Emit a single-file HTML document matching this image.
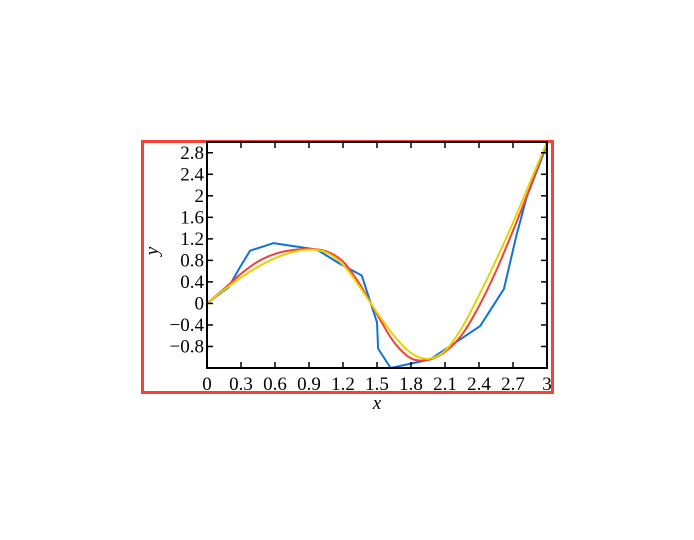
<!DOCTYPE html>
<html><head><meta charset="utf-8"><style>
body{margin:0;background:#fff;}
svg text{font-family:"Liberation Serif",serif;font-size:19px;fill:#000;}
</style></head><body>
<svg width="694" height="535" xmlns="http://www.w3.org/2000/svg">
<rect x="142.5" y="141.5" width="410" height="251" fill="none" stroke="#f44336" stroke-width="3"/>
<g id="plot"></g>
</svg>
<script>
const xTicks=[0,0.3,0.6,0.9,1.2,1.5,1.8,2.1,2.4,2.7,3];
const xTickLabels=["0","0.3","0.6","0.9","1.2","1.5","1.8","2.1","2.4","2.7","3"];
const yTicks=[-0.8,-0.4,0,0.4,0.8,1.2,1.6,2,2.4,2.8];
const yTickLabels=["\u22120.8","\u22120.4","0","0.4","0.8","1.2","1.6","2","2.4","2.8"];
const blueX=[0,0.19,0.29,0.38,0.585,0.97,1.17,1.365,1.5,1.51,1.62,1.97,2.41,2.62,2.73,2.82,3];
const blueY=[0,0.3,0.67,0.98,1.12,1.0,0.74,0.52,-0.35,-0.84,-1.2,-1.04,-0.42,0.27,1.26,1.97,2.95];
const redX=[0,0.15,0.3,0.45,0.6,0.75,0.9,1.05,1.2,1.35,1.5,1.65,1.8,1.95,2.1,2.25,2.4,2.55,2.7,2.85,3];
const redY=[0,0.27,0.55,0.78,0.92,0.99,1.01,0.97,0.78,0.35,-0.2,-0.72,-1.02,-1.05,-0.9,-0.58,-0.05,0.6,1.35,2.15,3.0];
const yellowX=[0,0.15,0.3,0.45,0.6,0.75,0.9,1.05,1.2,1.35,1.5,1.65,1.8,1.95,2.1,2.25,2.4,2.55,2.7,2.85,3];
const yellowY=[0,0.25,0.48,0.68,0.84,0.95,1.0,0.95,0.72,0.3,-0.17,-0.6,-0.92,-1.03,-0.88,-0.45,0.15,0.8,1.5,2.25,3.0];
const L=207,R=547,T=142,B=368,xmin=0,xmax=3,ymin=-1.2,ymax=3;
const sx=v=>L+(v-xmin)/(xmax-xmin)*(R-L);
const sy=v=>B-(v-ymin)/(ymax-ymin)*(B-T);
const NS="http://www.w3.org/2000/svg";
const g=document.getElementById('plot');
function mk(t,a){const e=document.createElementNS(NS,t);for(const k in a)e.setAttribute(k,a[k]);g.appendChild(e);return e;}
function series(xs,ys,c,name){
 const e=mk('polyline',{points:xs.map((x,i)=>sx(x)+','+sy(ys[i])).join(' '),fill:'none',stroke:c,'stroke-width':2,'stroke-linejoin':'round'});
 
 
}
function smooth(xs,ys,c,name){
 const p=xs.map((x,i)=>[sx(x),sy(ys[i])]);
 let d='M'+p[0][0]+','+p[0][1];
 for(let i=0;i<p.length-1;i++){
  const p0=p[Math.max(0,i-1)],p1=p[i],p2=p[i+1],p3=p[Math.min(p.length-1,i+2)];
  const c1=[p1[0]+(p2[0]-p0[0])/6,p1[1]+(p2[1]-p0[1])/6];
  const c2=[p2[0]-(p3[0]-p1[0])/6,p2[1]-(p3[1]-p1[1])/6];
  d+=' C'+c1+' '+c2+' '+p2;
 }
 const e=mk('path',{d:d,fill:'none',stroke:c,'stroke-width':2});
 
 
}
series(blueX,blueY,'#1173d4','series-blue');
smooth(redX,redY,'#f44336','series-red');
smooth(yellowX,yellowY,'#e6d200','series-yellow');
const fr=mk('rect',{x:L,y:T,width:R-L,height:B-T,fill:'none',stroke:'#000','stroke-width':2});


xTicks.forEach((v,i)=>{
 const x=sx(v);
 const t1=mk('line',{x1:x,x2:x,y1:B,y2:B-6,stroke:'#000','stroke-width':1.5});
 
 
 const t2=mk('line',{x1:x,x2:x,y1:T,y2:T+6,stroke:'#000','stroke-width':1.5});
 
 
 const lb=mk('text',{x:x,y:B+22,'text-anchor':'middle'});lb.textContent=xTickLabels[i];
 
 
});
yTicks.forEach((v,i)=>{
 const y=sy(v);
 const t1=mk('line',{x1:L,x2:L+6,y1:y,y2:y,stroke:'#000','stroke-width':1.5});
 
 
 const t2=mk('line',{x1:R,x2:R-6,y1:y,y2:y,stroke:'#000','stroke-width':1.5});
 
 
 const lb=mk('text',{x:L-3,y:y+6,'text-anchor':'end'});lb.textContent=yTickLabels[i];
 
 
});
const xt=mk('text',{x:(L+R)/2,y:409,'text-anchor':'middle','font-style':'italic'});xt.textContent='x';


const yt=mk('text',{x:0,y:0,'text-anchor':'middle','font-style':'italic',transform:'translate(158,251) rotate(-90)'});yt.textContent='y';


</script>
</body></html>
